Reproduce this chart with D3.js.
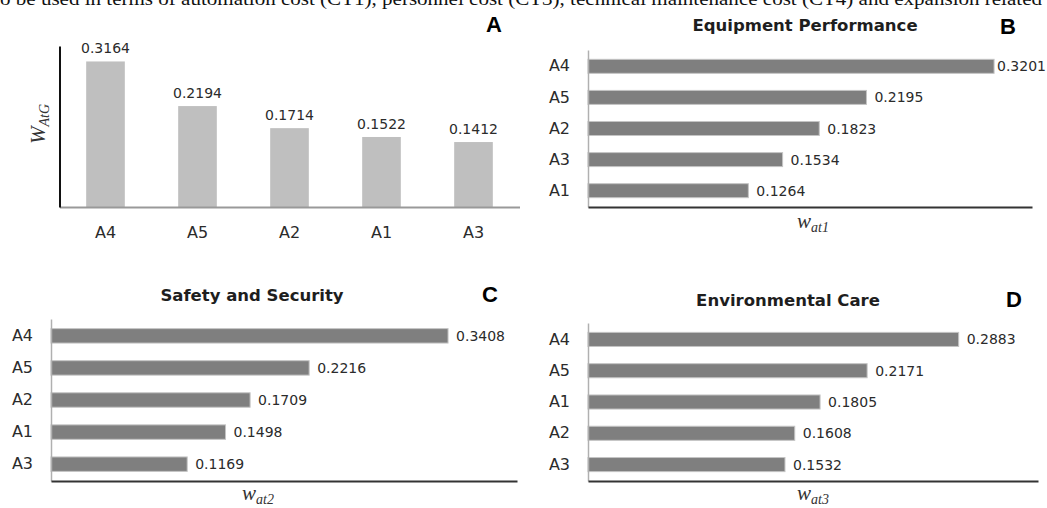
<!DOCTYPE html>
<html>
<head>
<meta charset="utf-8">
<script src="https://cdn.jsdelivr.net/npm/d3@7"></script>
<style>
  html, body { margin: 0; padding: 0; background: #fff; overflow: hidden; }
  svg { display: block; }
</style>
</head>
<body>
<script>
// ---------------- data ----------------
const captionText = "o be used in terms of automation cost (CT1), personnel cost (CT3), technical maintenance cost (CT4) and expansion related";

const catsA = ["A4", "A5", "A2", "A1", "A3"];
const valsA = [0.3164, 0.2194, 0.1714, 0.1522, 0.1412];

const catsB = ["A4", "A5", "A2", "A3", "A1"];
const valsB = [0.3201, 0.2195, 0.1823, 0.1534, 0.1264];

const catsC = ["A4", "A5", "A2", "A1", "A3"];
const valsC = [0.3408, 0.2216, 0.1709, 0.1498, 0.1169];

const catsD = ["A4", "A5", "A1", "A2", "A3"];
const valsD = [0.2883, 0.2171, 0.1805, 0.1608, 0.1532];

const panelTitles = ["", "Equipment Performance", "Safety and Security", "Environmental Care"];
const panelLetters = ["A", "B", "C", "D"];
const axisMain = ["W", "w", "w", "w"];
const axisSub = ["AtG", "at1", "at2", "at3"];

// ---------------- drawing ----------------
const W = 1047, H = 508;
const svg = d3.select("body").append("svg").attr("width", W).attr("height", H);

const labelFont = "DejaVu Sans";
const txtColor = "#2b2b2b";

// caption line cut off at top
svg.append("text")
  .attr("x", 0).attr("y", 5)
  .attr("font-family", "Liberation Serif")
  .attr("font-size", 18)
  .attr("textLength", 1042)
  .attr("lengthAdjust", "spacingAndGlyphs")
  .attr("fill", "#111")
  .text(captionText);

function letter(txt, x, y) {
  svg.append("text").attr("x", x).attr("y", y)
    .attr("text-anchor", "middle")
    .attr("font-family", "Liberation Sans").attr("font-weight", "bold")
    .attr("font-size", 22).attr("fill", "#000").text(txt);
}
function title(txt, x, y) {
  svg.append("text").attr("x", x).attr("y", y)
    .attr("text-anchor", "middle")
    .attr("font-family", labelFont).attr("font-weight", "bold")
    .attr("font-size", 16.5).attr("fill", "#1e1e1e").text(txt);
}
function axisTitle(g, main, sub, x, y, rotate) {
  const t = g.append("text")
    .attr("text-anchor", "middle")
    .attr("font-family", "Liberation Serif").attr("font-style", "italic")
    .attr("fill", "#333")
    .attr("transform", `translate(${x},${y})` + (rotate ? " rotate(-90)" : ""));
  t.append("tspan").attr("font-size", 21).text(main);
  t.append("tspan").attr("font-size", 14).attr("dy", "0.3em").text(sub);
}

// ---------- Panel A: vertical bars ----------
(function () {
  const g = svg.append("g");
  const x = d3.scaleBand().domain(catsA).range([59.5, 519.5]).paddingInner(0.58).paddingOuter(0.29);
  const y = d3.scaleLinear().domain([0, 0.35]).range([207, 46]);

  g.selectAll("rect").data(catsA).join("rect")
    .attr("x", d => x(d)).attr("width", x.bandwidth())
    .attr("y", (d, i) => y(valsA[i])).attr("height", (d, i) => y(0) - y(valsA[i]))
    .attr("fill", "#bfbfbf");

  g.selectAll("text.val").data(catsA).join("text").attr("class", "val")
    .attr("x", d => x(d) + x.bandwidth() / 2)
    .attr("y", (d, i) => y(valsA[i]) - 8)
    .attr("text-anchor", "middle")
    .attr("font-family", labelFont).attr("font-size", 14).attr("fill", txtColor)
    .text((d, i) => valsA[i].toFixed(4));

  const ax = g.append("g").attr("transform", `translate(0,${y(0)})`)
    .call(d3.axisBottom(x).tickSize(0).tickSizeOuter(0).tickPadding(20));
  ax.select(".domain").attr("stroke", "#999").attr("stroke-width", 2);
  ax.selectAll("text").attr("font-family", labelFont).attr("font-size", 16).attr("fill", txtColor);

  const ay = g.append("g").attr("transform", `translate(59.5,0)`)
    .call(d3.axisLeft(y).ticks(0).tickSize(0).tickSizeOuter(0));
  ay.select(".domain").attr("stroke", "#111").attr("stroke-width", 2);
  ay.selectAll(".tick").remove();

  axisTitle(g, axisMain[0], axisSub[0], 45, 124, true);
  letter(panelLetters[0], 494, 32);
})();

// ---------- Horizontal bar panels ----------
function hPanel(cats, vals, idx, cfg) {
  const g = svg.append("g");
  const y = d3.scaleBand().domain(cats).range([cfg.top, cfg.base]).paddingInner(0.55).paddingOuter(0.3);
  const x = d3.scaleLinear().domain([0, cfg.max]).range([cfg.left, cfg.right]);

  g.selectAll("rect").data(cats).join("rect")
    .attr("x", x(0)).attr("y", d => y(d))
    .attr("width", (d, i) => x(vals[i]) - x(0)).attr("height", y.bandwidth())
    .attr("fill", "#7f7f7f").attr("stroke", "#c4c4c4").attr("stroke-width", 1);

  g.selectAll("text.val").data(cats).join("text").attr("class", "val")
    .attr("x", (d, i) => x(vals[i]) + 8)
    .attr("y", d => y(d) + y.bandwidth() / 2)
    .attr("dy", "0.36em")
    .attr("font-family", labelFont).attr("font-size", 14).attr("fill", txtColor)
    .text((d, i) => vals[i].toFixed(4))
    .each(function () {
      const w = this.getComputedTextLength();
      const x0 = +this.getAttribute("x");
      if (x0 + w > W - 1) this.setAttribute("x", W - 1 - w);
    });

  const ay = g.append("g").attr("transform", `translate(${x(0)},0)`)
    .call(d3.axisLeft(y).tickSize(0).tickSizeOuter(0).tickPadding(18));
  ay.select(".domain").attr("stroke", "#b0b0b0").attr("stroke-width", 1.5);
  ay.selectAll("text").attr("font-family", labelFont).attr("font-size", 16).attr("fill", txtColor);

  const ax = g.append("g").attr("transform", `translate(0,${cfg.base})`)
    .call(d3.axisBottom(x).ticks(0).tickSize(0).tickSizeOuter(0));
  ax.select(".domain").attr("stroke", "#333").attr("stroke-width", 2);
  ax.selectAll(".tick").remove();

  title(panelTitles[idx], cfg.titleX, cfg.titleY);
  letter(panelLetters[idx], cfg.letterX, cfg.letterY);
  axisTitle(g, axisMain[idx], axisSub[idx], cfg.axX, cfg.axY, false);
}

hPanel(catsB, valsB, 1, { top: 50, base: 207, left: 588, right: 1032, max: 0.35,
  titleX: 805, titleY: 31, letterX: 1008, letterY: 34, axX: 813, axY: 228 });
hPanel(catsC, valsC, 2, { top: 319, base: 481, left: 51, right: 517, max: 0.4,
  titleX: 252, titleY: 301, letterX: 490, letterY: 302, axX: 258, axY: 500 });
hPanel(catsD, valsD, 3, { top: 323, base: 481, left: 588, right: 1038, max: 0.35,
  titleX: 788, titleY: 306, letterX: 1014, letterY: 307, axX: 813, axY: 500 });
</script>
</body>
</html>
